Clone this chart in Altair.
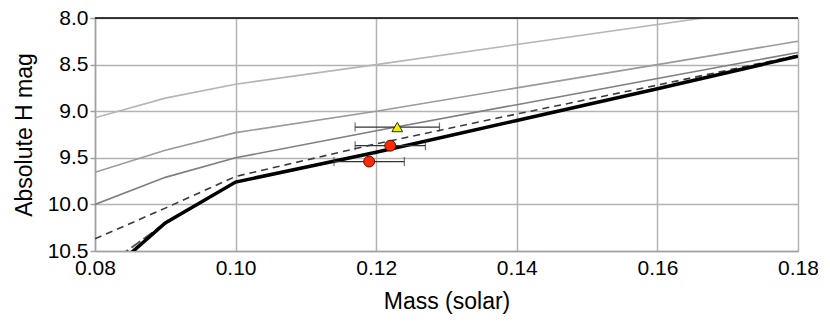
import altair as alt
import pandas as pd

# ---- data ----
mass = [0.08, 0.09, 0.10, 0.12, 0.14, 0.16, 0.18]
s1 = [9.07, 8.86, 8.71, 8.50, 8.285, 8.07, 7.855]
s2 = [9.655, 9.42, 9.23, 9.00, 8.75, 8.50, 8.25]
s3 = [10.00, 9.71, 9.50, 9.21, 8.93, 8.65, 8.37]
dashed = [10.37, 10.04, 9.70, 9.35, 9.03, 8.72, 8.40]
longdash_mass = [0.08, 0.09, 0.10]
longdash = [10.75, 10.20, 9.76]
solid = [10.86, 10.20, 9.76, 9.44, 9.10, 8.76, 8.41]

pt_mass = [0.123, 0.122, 0.119]
pt_mag = [9.17, 9.37, 9.54]
pt_err = [0.006, 0.005, 0.005]
pt_kind = ["triangle", "circle", "circle"]

x_ticks = [0.08, 0.10, 0.12, 0.14, 0.16, 0.18]
y_ticks = [8.0, 8.5, 9.0, 9.5, 10.0, 10.5]

FONT = "Liberation Sans"

def series_df(xs, ys, name):
    return pd.DataFrame({"mass": xs, "mag": ys, "series": name})

xsc = alt.Scale(domain=[0.08, 0.18], nice=False, zero=False)
ysc = alt.Scale(domain=[8.0, 10.5], reverse=True, nice=False, zero=False)

xax = alt.Axis(values=x_ticks, format=".2f", title="Mass (solar)", grid=True,
               gridColor="#b3b3b3", gridWidth=1.5, domainColor="#a0a0a0", domainWidth=1.5,
               ticks=False, labelPadding=6, labelFontSize=21, labelFont=FONT, labelColor="black",
               labelFlush=False, labelOverlap=False,
               titleFont=FONT, titleFontSize=23, titleFontWeight="normal", titleColor="black",
               titlePadding=12)
yax = alt.Axis(values=y_ticks, format=".1f", title="Absolute H mag", grid=True,
               gridColor="#b3b3b3", gridWidth=1.5, domainColor="#a0a0a0", domainWidth=1.5,
               ticks=True, tickSize=5, tickColor="#a0a0a0", tickWidth=1.5, labelPadding=2,
               labelFontSize=21, labelFont=FONT, labelColor="black",
               labelFlush=False, labelOverlap=False,
               titleFont=FONT, titleFontSize=23, titleFontWeight="normal", titleColor="black",
               titlePadding=11)

def line(df, color, width, dash=None):
    kw = dict(color=color, strokeWidth=width, clip=True)
    if dash:
        kw["strokeDash"] = dash
    return alt.Chart(df).mark_line(**kw).encode(
        x=alt.X("mass:Q", scale=xsc, axis=xax),
        y=alt.Y("mag:Q", scale=ysc, axis=yax),
    )

layers = [
    line(series_df(mass, s1, "s1"), "#b5b5b5", 1.6),
    line(series_df(mass, s2, "s2"), "#9a9a9a", 1.6),
    line(series_df(mass, s3, "s3"), "#7f7f7f", 1.6),
    line(series_df(longdash_mass, longdash, "ld"), "#555555", 2, [11, 4]),
    line(series_df(mass, dashed, "d"), "#3a3a3a", 1.6, [7, 5]),
    line(series_df(mass, solid, "solid"), "black", 3.5),
]

pts = pd.DataFrame({
    "mass": pt_mass, "mag": pt_mag,
    "lo": [m - e for m, e in zip(pt_mass, pt_err)],
    "hi": [m + e for m, e in zip(pt_mass, pt_err)],
    "kind": pt_kind,
})

err = alt.Chart(pts).mark_rule(color="#333333", strokeWidth=1.2).encode(
    x="lo:Q", x2="hi:Q", y=alt.Y("mag:Q", scale=ysc))
cap_lo = alt.Chart(pts).mark_tick(orient="vertical", color="#333333", thickness=1.2, size=9).encode(
    x=alt.X("lo:Q", scale=xsc), y=alt.Y("mag:Q", scale=ysc))
cap_hi = alt.Chart(pts).mark_tick(orient="vertical", color="#333333", thickness=1.2, size=9).encode(
    x=alt.X("hi:Q", scale=xsc), y=alt.Y("mag:Q", scale=ysc))

circles = alt.Chart(pts[pts.kind == "circle"]).mark_point(
    shape="circle", filled=True, fill="#ff2a00", stroke="#5a1000", strokeWidth=1, size=120, opacity=1
).encode(x=alt.X("mass:Q", scale=xsc), y=alt.Y("mag:Q", scale=ysc))
tri = alt.Chart(pts[pts.kind == "triangle"]).mark_point(
    shape="triangle-up", filled=True, fill="#f2ee00", stroke="#333300", strokeWidth=1, size=115, opacity=1
).encode(x=alt.X("mass:Q", scale=xsc), y=alt.Y("mag:Q", scale=ysc))

top = alt.Chart(pd.DataFrame({"mag": [8.0]})).mark_rule(color="black", strokeWidth=1.5).encode(
    y=alt.Y("mag:Q", scale=ysc))

chart = alt.layer(*layers, err, cap_lo, cap_hi, tri, circles, top).properties(
    width=703, height=233,
    autosize=alt.AutoSizeParams(type="none"),
    padding={"left": 87, "top": 10, "right": 20, "bottom": 66},
).configure_view(stroke=None).configure(background="white")

chart.save("out.html", embed_options={"renderer": "svg", "actions": False})
